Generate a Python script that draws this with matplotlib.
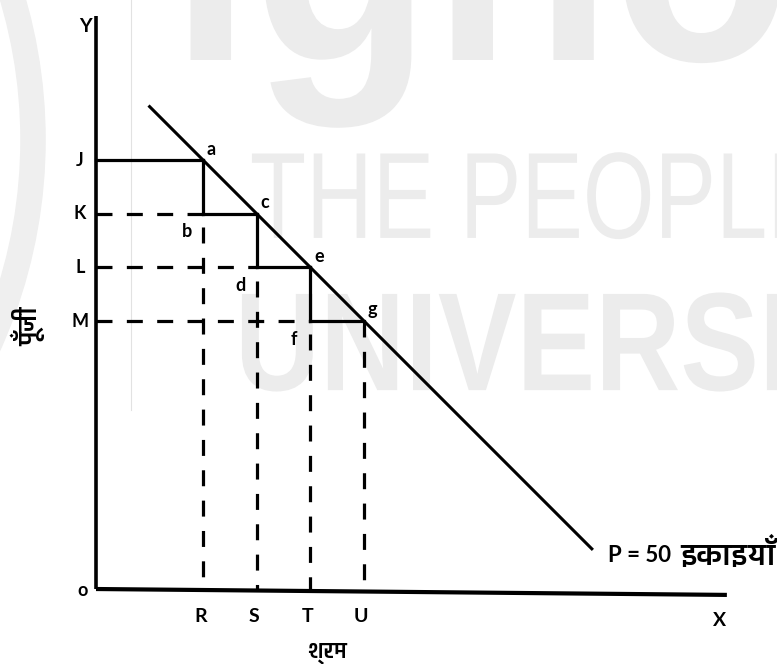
import matplotlib
matplotlib.use('Agg')
import matplotlib.pyplot as plt
from matplotlib import font_manager
from matplotlib.ft2font import FT2Font
from matplotlib.font_manager import FontProperties
from matplotlib.patches import Wedge, PathPatch
from matplotlib.textpath import TextPath
from matplotlib.transforms import Affine2D

# points on the budget line (labour R..U, capital J..M)
labour_ticks = ['R', 'S', 'T', 'U']
labour = [2, 3, 4, 5]
capital_ticks = ['J', 'K', 'L', 'M']
capital = [8, 7, 6, 5]
top_pts = ['a', 'c', 'e', 'g']
low_pts = ['b', 'd', 'f']
line_x = [1.0, 9.25]
line_y = [9.0, 0.75]
line_label = 'P = 50'
line_unit = 'इकाइयाँ'
x_title = 'श्रम'
y_title = 'पूँजी'


def find_deva():
    # need some font that has devanagari glyphs, bold one if there is
    found = []
    for f in font_manager.fontManager.ttflist:
        try:
            if 0x0915 in FT2Font(f.fname).get_charmap():
                found.append(f)
        except Exception:
            pass
    if not found:
        return None
    found.sort(key=lambda f: -int(f.weight) if str(f.weight).isdigit() else 0)
    return found[0].name


def watermark(ax, s, x, y, sx, sy, weight):
    # text stretched to look like the faint logo behind the chart
    tp = TextPath((0, 0), s, size=1, prop=FontProperties(family='Liberation Sans', weight=weight))
    tr = Affine2D().scale(sx, sy).translate(x, y)
    ax.add_patch(PathPatch(tr.transform_path(tp), color='#ececec', lw=0, zorder=0))


deva = find_deva()
fam = ['Lato', 'DejaVu Sans']
if deva:
    fam = ['Lato', deva, 'DejaVu Sans']
plt.rcParams['font.family'] = fam

fig = plt.figure(figsize=(7.77, 6.64), dpi=100)
ax = fig.add_axes([0, 0, 1, 1])
ax.set_xlim(-1.791, 12.705)
ax.set_ylim(-1.399, 10.989)
ax.axis('off')

# faint watermark in the background
ax.add_patch(Wedge((-10.5, 8.38), 9.55, -40, 40, width=0.45, color='#efefef', zorder=0))
ax.plot([0.65, 0.65], [3.34, 11.1], color='#e2e2e2', lw=0.8, zorder=0)
watermark(ax, 'ignou', 1.38, 9.87, 5.5, 5.97, 'bold')
watermark(ax, 'THE PEOPLE', 2.87, 6.55, 1.72, 2.29, 'normal')
watermark(ax, 'UNIVERSITY', 2.59, 3.71, 2.2, 2.61, 'bold')

lw = 2.3
dash = (0, (5, 4.5))
# axes
ax.plot([0, 0], [0, 10.69], color='k', lw=2.6, solid_capstyle='butt')
ax.plot([0, 11.77], [0, -0.11], color='k', lw=3, solid_capstyle='butt')

# budget line
ax.plot(line_x, line_y, color='k', lw=2.2)

# staircase
for i in range(len(labour)):
    x, y = labour[i], capital[i]
    if i == 0:
        ax.plot([0, x], [y, y], color='k', lw=lw)
    else:
        px = labour[i - 1]
        ax.plot([0, px], [y, y], color='k', lw=lw, ls=dash)
        ax.plot([px, x], [y, y], color='k', lw=lw)
    if i < len(labour) - 1:
        ny = capital[i + 1]
        ax.plot([x, x], [y, ny], color='k', lw=lw)
        ax.plot([x, x], [ny - 0.25, 0], color='k', lw=lw, ls=dash)
    else:
        ax.plot([x, x], [y, 0], color='k', lw=lw, ls=dash)

tkw = dict(fontsize=13, fontweight='bold', color='k')
ckw = dict(fontsize=14, fontweight='bold', color='k')
ax.text(-0.2, 10.49, 'Y', ha='center', va='center', **ckw)
ax.text(-0.26, -0.02, 'o', ha='center', va='center', **tkw)
ax.text(11.64, -0.58, 'X', ha='center', va='center', **ckw)
for lab, y in zip(capital_ticks, capital):
    ax.text(-0.3, y, lab, ha='center', va='center', **tkw)
for lab, x in zip(labour_ticks, labour):
    ax.text(x - 0.05, -0.52, lab, ha='center', va='center', **ckw)
for lab, x, y in zip(top_pts, labour, capital):
    ax.annotate(lab, (x, y), xytext=(6, 8), textcoords='offset points',
                ha='center', va='center', **tkw)
for lab, x, y in zip(low_pts, labour[:-1], capital[1:]):
    ax.annotate(lab, (x, y), xytext=(-12, -13), textcoords='offset points',
                ha='center', va='center', **tkw)

ax.text(9.55, 0.63, line_label, ha='left', va='center', fontsize=16, fontweight='bold')
ax.text(10.9, 0.66, line_unit, ha='left', va='center', fontsize=22, fontweight='bold')
ax.text(4.31, -1.19, x_title, ha='center', va='center', fontsize=16, fontweight='bold')
ax.text(-1.27, 4.91, y_title, ha='center', va='center', rotation=90, fontsize=18, fontweight='bold')

fig.savefig('out.png', dpi=100)
